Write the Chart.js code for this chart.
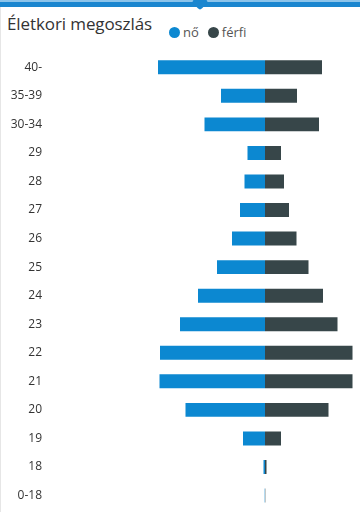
<!DOCTYPE html>
<html>
<head>
<meta charset="utf-8">
<script src="https://cdn.jsdelivr.net/npm/chart.js@4/dist/chart.umd.min.js"></script>
<style>
  html, body { margin: 0; padding: 0; background: #ffffff; }
  #wrap { position: relative; width: 360px; height: 512px; overflow: hidden; background: #fff; }
  #topbar { position: absolute; left: 0; top: 2px; width: 360px; height: 5px; background: #1a86cf; }
  #topbar2 { position: absolute; left: 0; top: 0px; width: 360px; height: 2px; background: #8cc4ea; }
  #notch { position: absolute; left: 194px; top: -4px; width: 12px; height: 12px; background: #1a86cf; transform: rotate(45deg); border-radius: 3px; }
  #edge { position: absolute; left: 0; top: 7px; width: 1px; height: 505px; background: #e6e6e6; }
  #title { position: absolute; left: 7px; top: 12px; font-family: "Open Sans", "Noto Sans", sans-serif; font-size: 17px; color: #333; white-space: nowrap; letter-spacing: -0.1px; }
  #legend { position: absolute; left: 169px; top: 23px; font-family: "Open Sans", "Noto Sans", sans-serif; font-size: 13px; color: #555; display: flex; align-items: center; }
  .li { display: flex; align-items: center; margin-right: 9px; }
  .dot { width: 11px; height: 11px; border-radius: 50%; margin-right: 3px; }
  canvas { position: absolute; left: 0; top: 0; }
</style>
</head>
<body>
<div id="wrap">
  <div id="topbar2"></div>
  <div id="topbar"></div>
  <div id="notch"></div>
  <div id="edge"></div>
  <div id="title">Életkori megoszlás</div>
  <div id="legend"></div>
  <canvas id="c" width="360" height="525"></canvas>
</div>
<script>
const categories = ["40-", "35-39", "30-34", "29", "28", "27", "26", "25", "24", "23", "22", "21", "20", "19", "18", "0-18"];
const seriesNames = ["nő", "férfi"];
const femaleValues = [107, 44, 60.5, 17.5, 20.5, 25, 33, 48, 67, 85, 105, 105.5, 79.5, 22, 1.5, 0.3];
const maleValues = [57, 32, 54, 16, 19, 24, 31.5, 43.5, 58, 72.5, 87.5, 87.5, 63.5, 16, 1.5, 0.3];
const colors = ["#0c88d1", "#374649"];

const legendEl = document.getElementById('legend');
seriesNames.forEach((n, i) => {
  const li = document.createElement('div'); li.className = 'li';
  const d = document.createElement('div'); d.className = 'dot'; d.style.background = colors[i];
  const t = document.createElement('span'); t.textContent = n;
  li.appendChild(d); li.appendChild(t); legendEl.appendChild(li);
});

new Chart(document.getElementById('c'), {
  type: 'bar',
  data: {
    labels: categories,
    datasets: [
      { label: seriesNames[0], data: femaleValues.map(v => -v), backgroundColor: colors[0], borderWidth: 0, categoryPercentage: 1, barPercentage: 0.49 },
      { label: seriesNames[1], data: maleValues, backgroundColor: colors[1], borderWidth: 0, categoryPercentage: 1, barPercentage: 0.49 }
    ]
  },
  options: {
    indexAxis: 'y',
    responsive: false,
    animation: false,
    layout: { padding: { top: 53, bottom: 3, left: 0, right: 0 } },
    plugins: { legend: { display: false }, title: { display: false }, tooltip: { enabled: false } },
    scales: {
      x: { stacked: true, display: false, min: -215, max: 95 },
      y: {
        stacked: true,
        grid: { display: false, drawTicks: false },
        border: { display: false },
        ticks: { padding: 8, color: '#333', font: { family: '"Open Sans", "Noto Sans", sans-serif', size: 12 } },
        afterFit: (s) => { s.width = 50; }
      }
    }
  }
});
</script>
</body>
</html>
